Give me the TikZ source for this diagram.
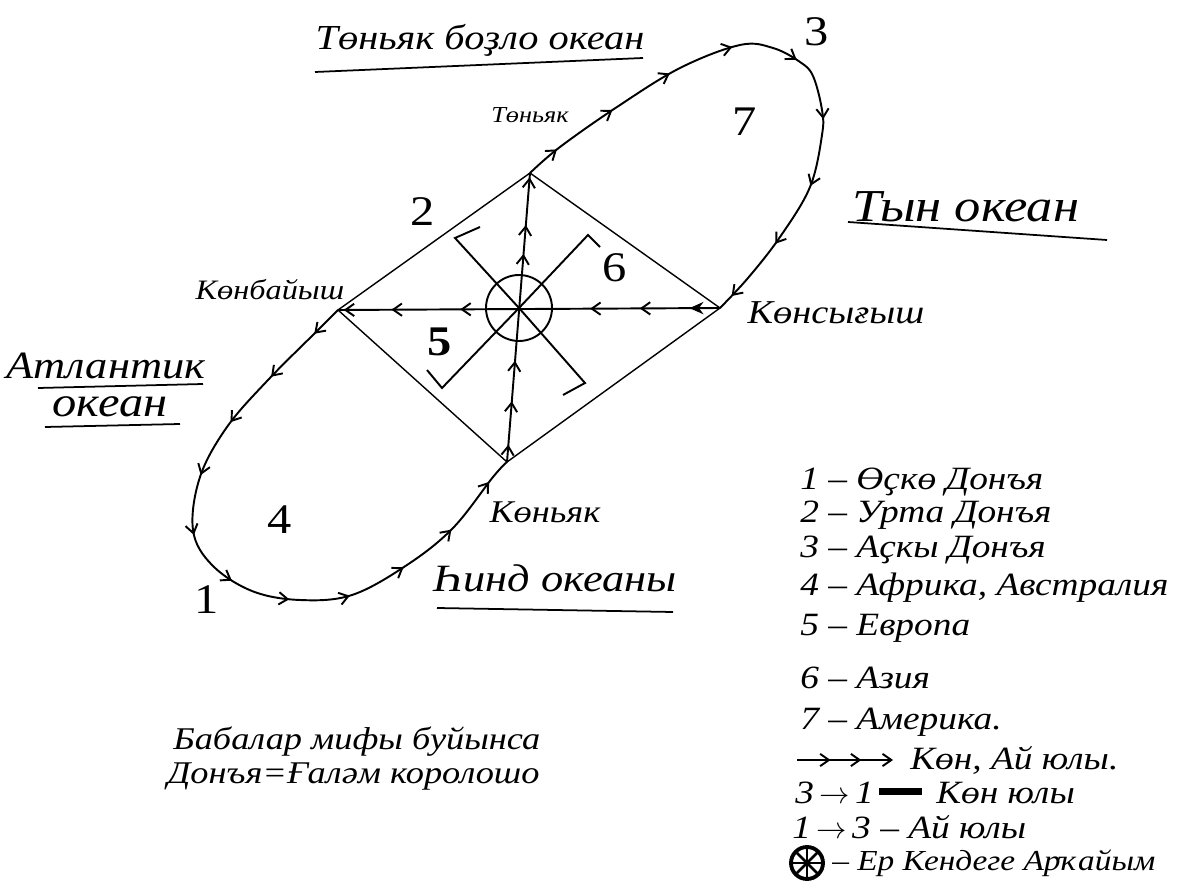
\documentclass[tikz,border=0pt]{standalone}
\usepackage{fontspec}
\setmainfont{Liberation Serif}[FakeStretch=1.15]
\usetikzlibrary{arrows.meta,decorations.markings}

\begin{document}
\begin{tikzpicture}[x=0.02cm, y=-0.02cm, >={Straight Barb[length=5pt,width=7pt]},
    road/.style={line width=1.1pt},
    edge/.style={line width=0.8pt},
    uline/.style={line width=1pt},
    flow/.style={postaction={decorate, decoration={markings, mark=between positions #1 with {\arrow{>}}}}},
    flowat/.style={postaction={decorate, decoration={markings, mark=at position #1 with {\arrow{>}}}}},
    boldat/.style={postaction={decorate, decoration={markings, mark=at position #1 with {\arrow{Stealth[length=8pt,width=7pt]}}}}},
    hand/.style={font=\itshape\fontsize{#1}{#1}\selectfont, inner sep=0pt},
    num/.style={font=\fontsize{#1}{#1}\selectfont, inner sep=0pt}]
  \useasboundingbox (0,0) rectangle (1191,895);

  % 1. вершины ромба и центр
  \coordinate (N) at (530,173);
  \coordinate (E) at (720,308);
  \coordinate (S) at (507,462);
  \coordinate (W) at (338,310);
  \coordinate (C) at (519,308);

  % 2. ромб
  \draw[edge] (W) -- (N) -- (E) -- (S) -- cycle;

  % 3. оси со стрелками
  \draw[road, boldat=0.08, flowat/.list={0.21,0.34,0.68,0.86,0.985}] (E) -- (W);
  \draw[road, flowat/.list={0.06,0.21,0.35,0.72,0.82,0.985}] (S) -- (N);

  % 4. петли (путь Солнца и Луны)
  \draw[road, flow={0.05 and 0.97 step 0.091}] plot[smooth, tension=0.6] coordinates
    {(W) (317,331) (268,380) (227,427) (200,477) (193,530) (212,565) (252,591) (300,600) (352,595) (407,565) (453,528) (493,477) (S)};
  \draw[road, flow={0.06 and 0.98 step 0.114}] plot[smooth, tension=0.6] coordinates
    {(N) (560,147) (617,107) (680,68) (740,45) (773,48) (800,62) (813,76) (822,110) (822,135) (810,187) (780,237) (748,278) (E)};

  % 5. Аркаим в центре
  \draw[road] (C) circle (33);
  \draw[road] (C) -- (455,238) -- (480,227);
  \draw[road] (C) -- (588,235) -- (600,247);
  \draw[road] (C) -- (585,383) -- (563,395);
  \draw[road] (C) -- (442,388) -- (427,370);

  % 6. стороны света
  \node[hand=13] (north) at (530,115) {Төньяк};
  \node[hand=16] (west) at (270,290) {Көнбайыш};
  \node[hand=19] (east) at (836,313) {Көнсығыш};
  \node[hand=18] (south) at (545,512) {Көньяк};

  % 7. океаны
  \node[hand=20] (arctic) at (480,40) {Төньяк боҙло океан};
  \draw[uline] (315,72) -- (643,58);
  \node[hand=26] (pacific) at (966,207) {Тын океан};
  \draw[uline] (848,222) -- (1107,240);
  \node[hand=22] (atlantic) at (106,366) {Атлантик};
  \draw[uline] (38,388) -- (203,384);
  \node[hand=24] (atlantic2) at (110,407) {океан};
  \draw[uline] (45,427) -- (180,424);
  \node[hand=22] (indian) at (555,578) {Һинд океаны};
  \draw[uline] (437,608) -- (673,612);

  % 8. номера
  \node[num=24] (n1) at (207,600) {1};
  \node[num=24] (n2) at (423,212) {2};
  \node[num=24] (n3) at (817,32) {3};
  \node[num=24] (n4) at (280,520) {4};
  \node[num=24, font=\bfseries\fontsize{24}{24}\selectfont] (n5) at (440,342) {5};
  \node[num=24] (n6) at (615,268) {6};
  \node[num=24] (n7) at (745,122) {7};

  % 9. легенда
  \node[hand=18.5, anchor=west] (k1) at (800,482) {1 – Өҫкө Донъя};
  \node[hand=18.5, anchor=west] (k2) at (800,515) {2 – Урта Донъя};
  \node[hand=18.5, anchor=west] (k3) at (800,550) {3 – Аҫкы Донъя};
  \node[hand=18.5, anchor=west] (k4) at (800,588) {4 – Африка, Австралия};
  \node[hand=18.5, anchor=west] (k5) at (800,628) {5 – Европа};
  \node[hand=18.5, anchor=west] (k6) at (800,678) {6 – Азия};
  \node[hand=18.5, anchor=west] (k7) at (800,722) {7 – Америка.};
  \coordinate (ka) at (797,760);
  \coordinate (kb) at (893,760);
  \draw[road, ->, flowat/.list={0.35,0.67}] (ka) -- (kb);
  \node[hand=18.5, anchor=west] (k8) at (910,760) {Көн, Ай юлы.};
  \node[hand=18.5, anchor=west] (k9) at (795,793) {3\,$\rightarrow$\,1\,\rule[.25em]{1.3em}{.22em}\, Көн юлы};
  \node[hand=18.5, anchor=west] (k10) at (792,827) {1\,$\rightarrow$\,3 – Ай юлы};
  \coordinate (sym) at (807,863);
  \draw[line width=2.2pt] (sym) circle (16);
  \foreach \a in {0,45,...,315}
    \draw[line width=1.6pt] (sym) -- ++(\a:16);
  \node[hand=16.5, anchor=west] (k11) at (832,863) {– Ер Кендеге Арҡайым};

  % 10. подпись
  \node[hand=18, anchor=west] (cap1) at (173,742) {Бабалар мифы буйынса};
  \node[hand=18, anchor=west] (cap2) at (167,777) {Донъя=Ғаләм королошо};
\end{tikzpicture}
\end{document}
